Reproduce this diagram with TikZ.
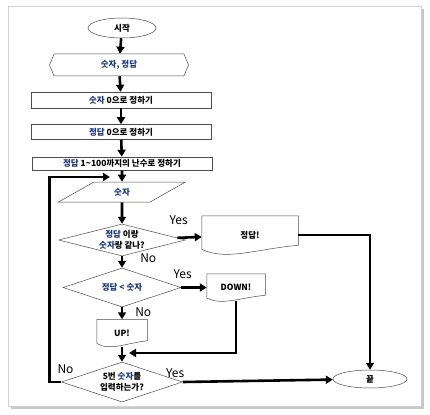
\documentclass[tikz,border=0pt]{standalone}
\usepackage{fontspec}
\setmainfont{Noto Sans CJK KR}
\usetikzlibrary{positioning, calc, arrows.meta, shapes.geometric, shapes.symbols}
\definecolor{kblue}{RGB}{31,56,120}
\newcommand{\kb}[1]{\textcolor{kblue}{#1}}
% outline of a flowchart document box, #2 = wave size
\newcommand{\docoutline}[2]{%
	\draw[docline] ($(#1.south west)+(0,1.1*#2)$) -- (#1.north west) -- (#1.north east)
		-- ($(#1.south east)+(0,2*#2)$)
		.. controls ($(#1.south west)!0.55!(#1.south east)+(0,1.1*#2)$)
		and ($(#1.south west)!0.25!(#1.south east)+(0,-1.5*#2)$)
		.. ($(#1.south west)+(0,1.1*#2)$) -- cycle;}

\begin{document}
\begin{tikzpicture}[x=1pt, y=1pt,
		box/.style={draw=black!70, line width=.5pt, align=center, inner sep=0pt,
			font=\bfseries\fontsize{8.5}{11}\selectfont},
		term/.style={box, ellipse},
		proc/.style={box, rectangle, minimum width=180pt},
		decide/.style={box, diamond},
		docbox/.style={box, draw=none, rectangle},
		docline/.style={draw=black!70, line width=.5pt},
		arrow/.style={-{Triangle[length=7pt, width=8pt]}, line width=2.6pt},
		lab/.style={font=\fontsize{12}{13}\selectfont, inner sep=0pt}]
	\useasboundingbox (0,0) rectangle (430,-414);
	% frame with shadow
	\fill[black!22] (11,-9) rectangle (424,-409);
	\draw[black!18, fill=white] (8,-6) rectangle (421,-406);

	\node[term, minimum width=68pt, minimum height=20pt] (start) at (122,-28) {시작};
	\node[box, signal, signal to=west and east, signal pointer angle=135,
		minimum width=139pt, minimum height=22pt] (input) at (119,-65) {\kb{숫자, 정답}};
	\node[proc, minimum height=16pt] (zero1) at (121,-100) {\kb{숫자} 0으로 정하기};
	\node[proc, minimum height=15pt] (zero2) at (121,-132) {\kb{정답} 0으로 정하기};
	\node[proc, minimum height=13pt] (rand) at (122,-163.5) {\kb{정답} 1\textasciitilde100까지의 난수로 정하기};
	\node[box, trapezium, trapezium left angle=39, trapezium right angle=141, trapezium stretches=true,
		minimum width=127pt, minimum height=20pt] (num) at (122,-192) {\kb{숫자}};
	\node[decide, aspect=3.9, minimum width=127pt, minimum height=32pt] (same) at (122,-240)
		{\kb{정답} 이랑\\\kb{숫자}랑 같나?};
	\node[docbox, minimum width=96pt, minimum height=38pt] (ok) at (250,-235) {정답!};
	\node[decide, aspect=3, minimum width=118pt, minimum height=39pt] (less) at (122,-287.5) {\kb{정답 < 숫자}};
	\node[docbox, minimum width=58pt, minimum height=27pt] (down) at (236,-287.5) {DOWN!};
	\node[docbox, minimum width=50pt, minimum height=27pt] (up) at (122,-333) {UP!};
	\node[decide, aspect=3, minimum width=121pt, minimum height=40pt] (five) at (122,-382)
		{5번 \kb{숫자}를\\입력하는가?};
	\node[term, minimum width=74pt, minimum height=18pt] (end) at (370,-379) {끝};
	\coordinate (merge) at (122,-353);
	\coordinate (loop) at (122,-177);

	\docoutline{ok}{4.5pt}
	\docoutline{down}{3pt}
	\docoutline{up}{3pt}

	\draw[arrow] (start) -- (input);
	\draw[arrow] (input) -- (zero1);
	\draw[arrow] (zero1) -- (zero2);
	\draw[arrow] (zero2) -- (rand);
	\draw[arrow] (rand) -- (num);
	\draw[arrow] (num) -- (same);
	\draw[arrow] (same) -- node[lab, pos=0, anchor=south west, xshift=-9pt, yshift=12pt] {Yes} (ok);
	\draw[arrow] (same) -- node[lab, pos=.2, anchor=west, xshift=17pt] {No} (less);
	\draw[arrow] (less) -- node[lab, pos=0, anchor=south west, xshift=-9pt, yshift=8pt] {Yes} (down);
	\draw[arrow] (less) -- node[lab, pos=.4, anchor=west, xshift=12pt] {No} (up);
	\draw[arrow, shorten >=7pt] (down.south) |- (merge);
	\draw[arrow] (up) -- (five);
	\draw[arrow] (ok.east) -| (end.north);
	\draw[arrow] (five.east) -- node[lab, pos=0, anchor=south west, xshift=-18pt, yshift=3pt] {Yes} (end);
	\draw[arrow, shorten >=12pt] (five.west) -- node[lab, pos=0, anchor=south west, xshift=-5pt, yshift=7pt] {No}
		++(-12,0) |- (loop);
\end{tikzpicture}
\end{document}
